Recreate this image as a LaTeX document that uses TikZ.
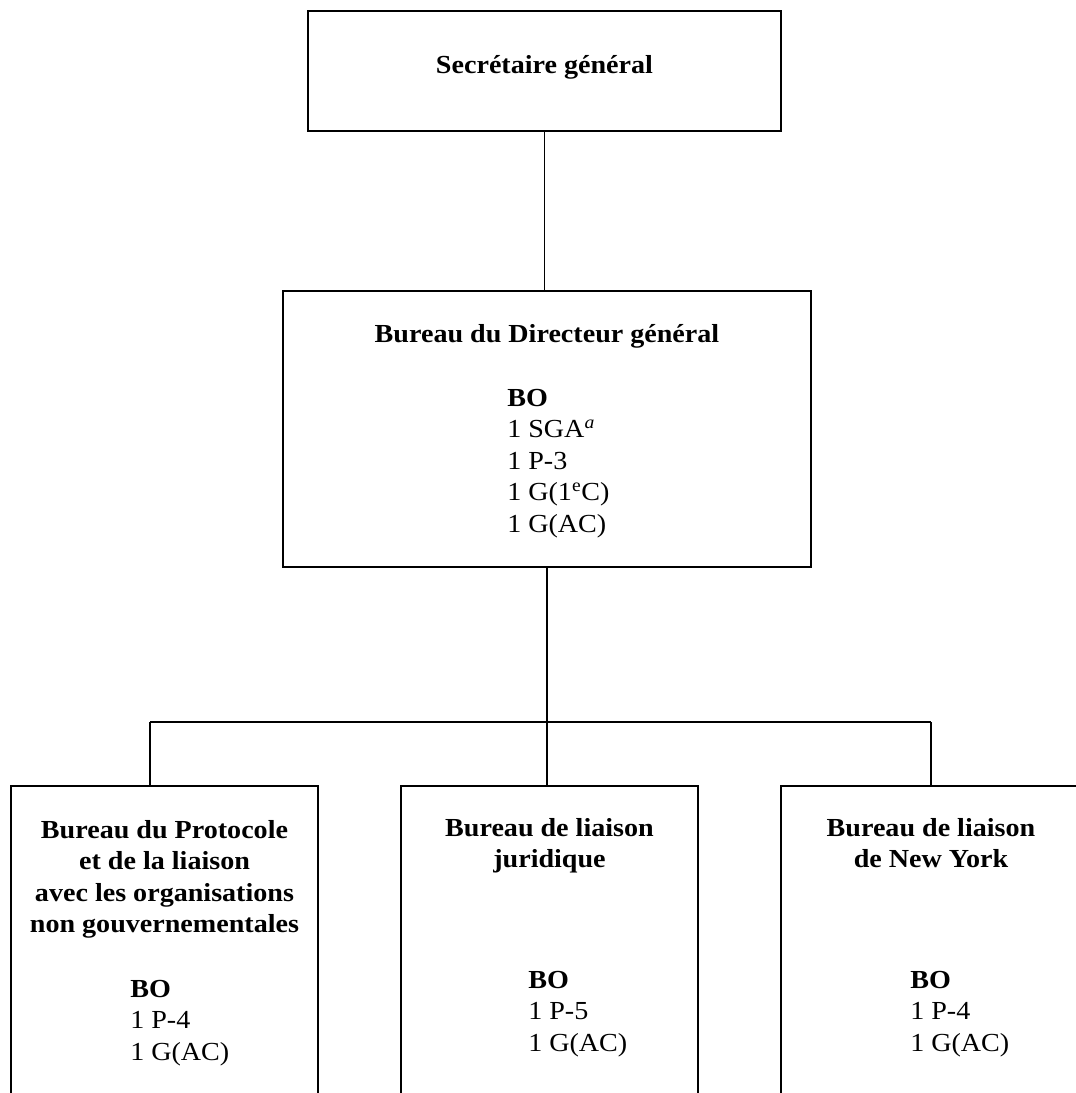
\documentclass[tikz,border=0pt]{standalone}
\usepackage{fontspec}
\setmainfont[FakeStretch=1.08]{Liberation Serif}
\usepackage{tikz}
\usetikzlibrary{positioning, calc}
\tikzstyle{unit}  = [rectangle, draw=black, line width=1.2pt, inner sep=0pt]
\tikzstyle{topbox} = [unit, minimum width=11.825cm, minimum height=3cm]
\tikzstyle{midbox} = [unit, minimum width=13.2cm, minimum height=6.9cm]
\tikzstyle{lowbox} = [unit, minimum height=9cm]
\tikzstyle{title} = [align=center, font=\fontsize{18.5}{22.4}\selectfont\bfseries, inner sep=0pt]
\tikzstyle{staff} = [align=left, font=\fontsize{18.5}{22.4}\selectfont, inner sep=0pt]
\tikzstyle{line}  = [line width=1.2pt]

\begin{document}
\begin{tikzpicture}
\path [use as bounding box, clip] (0,0) rectangle (26.9,-27.325);

\node (sg) [topbox] at (13.6125,-1.775) {};
\node (dg) [midbox] at (13.675,-10.725) {};
\node (pr) [lowbox, minimum width=7.675cm] at (4.1125,-24.15) {};
\node (jur) [lowbox, minimum width=7.425cm] at (13.7375,-24.15) {};
\node (ny) [lowbox, minimum width=7.5cm] at (23.275,-24.15) {};

% texts (base = last line)
\node (sgtitle) [title, below=1.575cm of sg.north, anchor=base] {Secrétaire général};
\node (dgtitle) [title, below=1.3cm of dg.north, anchor=base] {Bureau du Directeur général};
\node (dgstaff) [staff, below=6.05cm of dg.north, xshift=-1cm, anchor=base west]
  {\textbf{BO}\\ 1 SGA\textsuperscript{\textit{a}}\\ 1 P-3\\ 1 G(1\textsuperscript{e}C)\\ 1 G(AC)};
\node (prtitle) [title, below=3.6875cm of pr.north, anchor=base]
  {Bureau du Protocole\\ et de la liaison\\ avec les organisations\\ non gouvernementales};
\node (prstaff) [staff, below=6.875cm of pr.north, xshift=-0.8625cm, anchor=base west]
  {\textbf{BO}\\ 1 P-4\\ 1 G(AC)};
\node (jurtitle) [title, below=2.07cm of jur.north, anchor=base] {Bureau de liaison\\ juridique};
\node (jurstaff) [staff, below=6.65cm of jur.north, xshift=-0.5375cm, anchor=base west]
  {\textbf{BO}\\ 1 P-5\\ 1 G(AC)};
\node (nytitle) [title, below=2.07cm of ny.north, anchor=base] {Bureau de liaison\\ de New York};
\node (nystaff) [staff, below=6.65cm of ny.north, xshift=-0.525cm, anchor=base west]
  {\textbf{BO}\\ 1 P-4\\ 1 G(AC)};

% connectors
\coordinate (hub) at (dg.south |- 0,-18.05);
\coordinate (jl) at (3.75,-18.05);
\coordinate (jr) at (ny.north |- hub);
\draw [line] (sg.south) -- (sg.south |- dg.north);
\draw [line] (dg.south) -- (hub);
\draw [line] (jl) -- (jr);
\draw [line] (jl) -- (jl |- pr.north);
\draw [line] (hub) -- (hub |- jur.north);
\draw [line] (jr) -- (ny.north);
\end{tikzpicture}
\end{document}
